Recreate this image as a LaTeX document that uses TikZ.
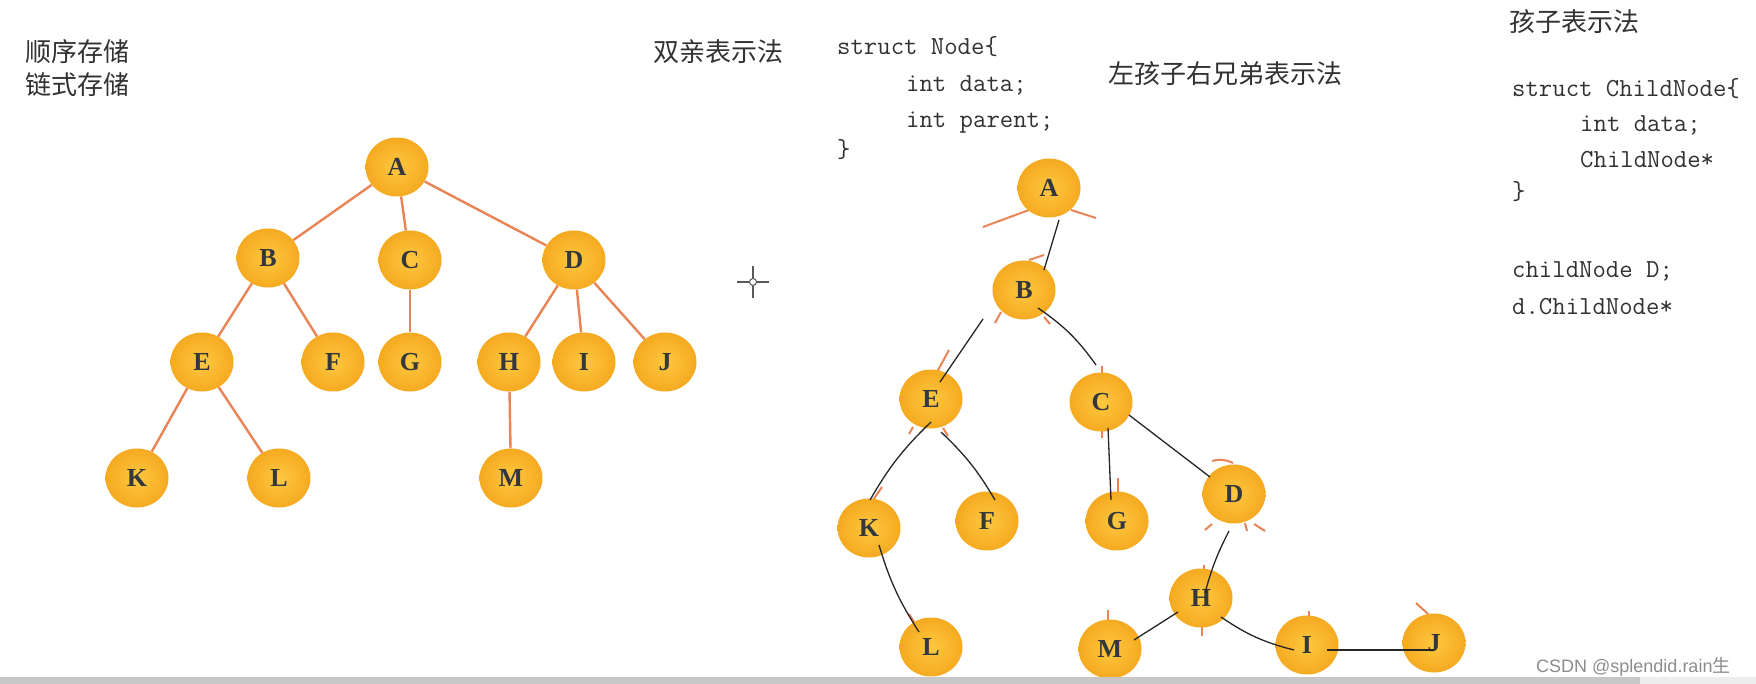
\documentclass[tikz,border=0pt]{standalone}
\usepackage{fontspec}
\setmainfont{Liberation Serif}
\newfontfamily\cjk{Noto Sans CJK SC}
\newfontfamily\wmfont{Liberation Sans}
\usetikzlibrary{shapes.geometric,backgrounds}

\definecolor{ballin}{RGB}{253,200,64}
\definecolor{ballout}{RGB}{245,170,32}
\definecolor{letter}{RGB}{52,56,60}
\definecolor{edgeor}{RGB}{232,132,86}
\definecolor{txt}{RGB}{50,50,50}
\definecolor{wm}{RGB}{140,140,140}

\tikzset{
  ball/.style={ellipse, minimum width=63pt, minimum height=59pt, inner sep=0pt,
    inner color=ballin, outer color=ballout, text=letter,
    font=\fontsize{26}{26}\selectfont\bfseries},
  oedge/.style={draw=edgeor, line width=2.4pt},
  bedge/.style={draw=black!85, line width=1.3pt},
  stub/.style={draw=edgeor, line width=2pt},
  cn/.style={anchor=west, inner sep=0pt, text=txt, font=\cjk\fontsize{26}{26}\selectfont},
  code/.style={anchor=base west, inner sep=0pt, text=txt, font=\ttfamily\fontsize{26}{26}\selectfont},
}

\begin{document}
\begin{tikzpicture}[x=1pt, y=-1pt]
\useasboundingbox (0,0) rectangle (1756,684);
\begin{pgfonlayer}{background}
  \fill[white] (0,0) rectangle (1756,684);
\end{pgfonlayer}

% ---------- texts ----------
\node[cn] (t1) at (25,52) {顺序存储};
\node[cn] (t2) at (25,85) {链式存储};
\node[cn] (t3) at (653,52) {双亲表示法};
\node[cn] (t4) at (1108,74) {左孩子右兄弟表示法};
\node[cn] (t5) at (1509,22) {孩子表示法};

\node[code] (c1) at (837,55) {struct Node\{};
\node[code] (c2) at (906,92) {int data;};
\node[code] (c3) at (906,128) {int parent;};
\node[code] (c4) at (837,158) {\}};

\node[code] (d1) at (1512,97) {struct ChildNode\{};
\node[code] (d2) at (1580,132) {int data;};
\node[code] (d3) at (1580,168) {ChildNode*};
\node[code] (d4) at (1512,200) {\}};
\node[code] (d5) at (1512,278) {childNode D;};
\node[code] (d6) at (1512,315) {d.ChildNode*};

\node[anchor=base west, inner sep=0pt, text=wm, font=\wmfont\fontsize{18}{18}\selectfont] (wm) at (1536,672) {CSDN @splendid.rain{\cjk 生}};

% ---------- crosshair ----------
\draw[black!65, line width=1.6pt] (737,282) -- (769,282) (753,266) -- (753,298);
\draw[black!65, fill=white, line width=1pt] (753,282) circle (3.5);

% ---------- left tree ----------
\node[ball] (A) at (397,167) {A};
\node[ball] (B) at (268,258) {B};
\node[ball] (C) at (410,260) {C};
\node[ball] (D) at (574,260) {D};
\node[ball] (E) at (202,362) {E};
\node[ball] (F) at (333,362) {F};
\node[ball] (G) at (410,362) {G};
\node[ball] (H) at (509,362) {H};
\node[ball] (I) at (584,362) {I};
\node[ball] (J) at (665,362) {J};
\node[ball] (K) at (137,478) {K};
\node[ball] (L) at (279,478) {L};
\node[ball] (M) at (511,478) {M};

\draw[oedge] (A) -- (B);
\draw[oedge] (A) -- (C);
\draw[oedge] (A) -- (D);
\draw[oedge] (B) -- (E);
\draw[oedge] (B) -- (F);
\draw[oedge] (C) -- (G);
\draw[oedge] (D) -- (H);
\draw[oedge] (D) -- (I);
\draw[oedge] (D) -- (J);
\draw[oedge] (E) -- (K);
\draw[oedge] (E) -- (L);
\draw[oedge] (H) -- (M);

% ---------- right tree ----------
\node[ball] (rA) at (1049,188) {A};
\node[ball] (rB) at (1024,290) {B};
\node[ball] (rE) at (931,399) {E};
\node[ball] (rC) at (1101,402) {C};
\node[ball] (rK) at (869,528) {K};
\node[ball] (rF) at (987,521) {F};
\node[ball] (rG) at (1117,521) {G};
\node[ball] (rD) at (1234,494) {D};
\node[ball] (rH) at (1201,598) {H};
\node[ball] (rL) at (931,647) {L};
\node[ball] (rM) at (1110,649) {M};
\node[ball] (rI) at (1307,645) {I};
\node[ball] (rJ) at (1434,643) {J};

% orange remnants
\begin{pgfonlayer}{background}
\draw[stub] ([shift={(-66,39)}]rA.center) -- ([shift={(-20,22)}]rA.center);
\draw[stub] ([shift={(22,22)}]rA.center) -- ([shift={(47,30)}]rA.center);
\draw[stub] ([shift={(5,-30)}]rB.center) -- ([shift={(20,-35)}]rB.center);
\draw[stub] ([shift={(-29,33)}]rB.center) -- ([shift={(-23,22)}]rB.center);
\draw[stub] ([shift={(20,27)}]rB.center) -- ([shift={(26,34)}]rB.center);
\draw[stub] ([shift={(18,-49)}]rE.center) -- ([shift={(6,-27)}]rE.center);
\draw[stub] ([shift={(-18,28)}]rE.center) -- ([shift={(-22,35)}]rE.center);
\draw[stub] ([shift={(12,29)}]rE.center) -- ([shift={(17,37)}]rE.center);
\draw[stub] ([shift={(1,-36)}]rC.center) -- ([shift={(1,-29)}]rC.center);
\draw[stub] ([shift={(1,29)}]rC.center) -- ([shift={(1,36)}]rC.center);
\draw[stub] ([shift={(13,-41)}]rK.center) -- ([shift={(4,-28)}]rK.center);
\draw[stub] ([shift={(1,-43)}]rG.center) -- ([shift={(1,-27)}]rG.center);
\draw[stub] ([shift={(-22,-33)}]rD.center) to[bend left=20] ([shift={(-1,-31)}]rD.center);
\draw[stub] ([shift={(-22,30)}]rD.center) -- ([shift={(-29,36)}]rD.center);
\draw[stub] ([shift={(11,29)}]rD.center) -- ([shift={(13,37)}]rD.center);
\draw[stub] ([shift={(20,30)}]rD.center) -- ([shift={(31,37)}]rD.center);
\draw[stub] ([shift={(3,-33)}]rH.center) -- ([shift={(3,-26)}]rH.center);
\draw[stub] ([shift={(1,29)}]rH.center) -- ([shift={(1,38)}]rH.center);
\draw[stub] ([shift={(-22,-33)}]rL.center) -- ([shift={(-15,-22)}]rL.center);
\draw[stub] ([shift={(-2,-39)}]rM.center) -- ([shift={(-2,-26)}]rM.center);
\draw[stub] ([shift={(2,-34)}]rI.center) -- ([shift={(2,-27)}]rI.center);
\draw[stub] ([shift={(-18,-40)}]rJ.center) -- ([shift={(-6,-29)}]rJ.center);
\end{pgfonlayer}

% black hand-drawn links
\draw[bedge] ([shift={(10,32)}]rA.center) -- ([shift={(20,-20)}]rB.center);
\draw[bedge] ([shift={(-41,29)}]rB.center) -- ([shift={(9,-17)}]rE.center);
\draw[bedge] ([shift={(14,18)}]rB.center) to[bend left=10] ([shift={(-5,-37)}]rC.center);
\draw[bedge] ([shift={(0,23)}]rE.center) to[bend right=8] ([shift={(1,-28)}]rK.center);
\draw[bedge] ([shift={(10,33)}]rE.center) to[bend left=8] ([shift={(8,-21)}]rF.center);
\draw[bedge] ([shift={(7,26)}]rC.center) -- ([shift={(-6,-21)}]rG.center);
\draw[bedge] ([shift={(28,13)}]rC.center) -- ([shift={(-24,-17)}]rD.center);
\draw[bedge] ([shift={(-5,37)}]rD.center) to[bend right=6] ([shift={(4,-5)}]rH.center);
\draw[bedge] ([shift={(10,17)}]rK.center) to[bend right=8] ([shift={(-12,-15)}]rL.center);
\draw[bedge] ([shift={(-23,14)}]rH.center) -- ([shift={(24,-9)}]rM.center);
\draw[bedge] ([shift={(20,19)}]rH.center) to[bend right=10] ([shift={(-13,5)}]rI.center);
\draw[bedge] ([shift={(20,5)}]rI.center) -- ([shift={(0,7)}]rJ.center);

% bottom bar
\fill[black!22] (0,677) rectangle (1640,684);
\fill[black!7] (1640,677) rectangle (1756,684);
\end{tikzpicture}
\end{document}
